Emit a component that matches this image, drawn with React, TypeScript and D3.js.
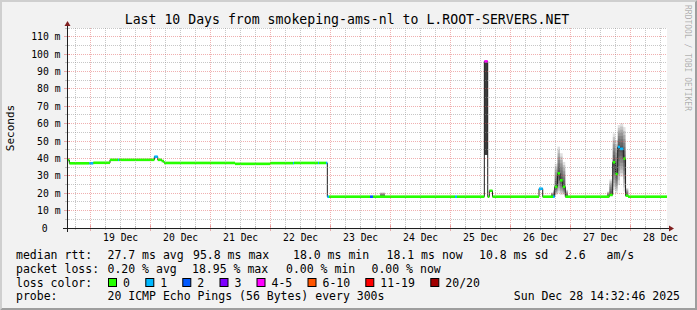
import React from "react";
import * as d3 from "d3";

const WIDTH = 697;
const HEIGHT = 310;

const TITLE = "Last 10 Days from smokeping-ams-nl to L.ROOT-SERVERS.NET";
const Y_LABEL = "Seconds";
const WATERMARK = "RRDTOOL / TOBI OETIKER";
const START = "2025-12-18 14:32:46";
const END = "2025-12-28 14:32:46";
const Y_MAX = 115;

const yMajorTicks = [0, 10, 20, 30, 40, 50, 60, 70, 80, 90, 100, 110];
const yTickLabels = ["0", "10 m", "20 m", "30 m", "40 m", "50 m", "60 m", "70 m", "80 m", "90 m", "100 m", "110 m"];

// median rtt (ms) step series: change points
const medianTimes = [
  "12-18 14:33", "12-18 15:29", "12-18 23:29", "12-19 01:05", "12-19 07:45", "12-19 10:57",
  "12-19 11:21", "12-20 01:29", "12-20 02:50", "12-20 04:26", "12-20 05:21", "12-21 09:45",
  "12-21 23:45", "12-22 08:57", "12-22 09:21", "12-22 18:57", "12-22 19:21", "12-22 22:09",
  "12-22 22:41", "12-22 23:21", "12-23 15:45", "12-23 16:57", "12-25 01:45", "12-25 02:33",
  "12-25 13:29", "12-25 14:50", "12-25 15:29", "12-25 16:45", "12-26 11:21", "12-26 12:50",
  "12-26 16:57", "12-26 17:38", "12-26 18:45", "12-26 19:45", "12-26 20:50", "12-26 21:52",
  "12-27 15:29", "12-27 16:50", "12-27 17:53", "12-27 18:50", "12-27 19:45", "12-27 21:04",
  "12-27 21:58", "12-27 22:58",
];
const medianValues = [
  39.1, 37.2, 37.2, 37.5, 39.2, 39.2,
  39.2, 41.0, 39.2, 38.5, 37.4, 36.9,
  37.3, 37.3, 37.4, 37.4, 37.4, 37.4,
  18.0, 18.0, 18.0, 18.0, 18.0, 18.0,
  95.8, 18.0, 21.4, 18.0, 22.6, 18.0,
  18.0, 23.7, 31.4, 27.4, 23.7, 18.0,
  19.0, 37.8, 31.0, 46.6, 45.5, 39.9,
  18.6, 18.0,
];
// index into lossColors
const medianLoss = [
  0, 0, 1, 0, 0, 1,
  0, 1, 0, 0, 0, 0,
  0, 1, 0, 1, 0, 1,
  1, 0, 2, 0, 1, 0,
  4, 0, 0, 0, 1, 0,
  1, 0, 0, 0, 0, 0,
  0, 0, 0, 1, 1, 0,
  0, 0,
];

// smoke (ping spread) columns
const smokeStart = [
  "12-23 19:45", "12-26 16:09", "12-26 16:57", "12-26 17:38", "12-26 18:45", "12-26 19:45",
  "12-26 20:50", "12-26 21:52", "12-27 14:33", "12-27 15:29", "12-27 16:50", "12-27 17:53",
  "12-27 18:50", "12-27 19:45", "12-27 21:04", "12-27 21:58",
];
const smokeEnd = [
  "12-23 21:45", "12-26 16:57", "12-26 17:38", "12-26 18:45", "12-26 19:45", "12-26 20:50",
  "12-26 21:52", "12-26 22:57", "12-27 15:29", "12-27 16:50", "12-27 17:53", "12-27 18:50",
  "12-27 19:45", "12-27 21:04", "12-27 21:58", "12-27 23:04",
];
const smokeLow = [18.4, 18.3, 18.3, 19.0, 20.0, 19.0, 19.0, 18.3, 18.3, 19.0, 21.8, 20.0, 24.7, 29.5, 21.0, 18.3];
const smokeHigh = [20.5, 20.5, 22.0, 37.0, 46.8, 43.0, 38.0, 22.0, 21.0, 28.0, 54.4, 50.6, 59.2, 60.2, 58.0, 23.0];

// dense smoke of the 25 Dec spike
const spikeStart = ["12-25 13:29"];
const spikeEnd = ["12-25 14:50"];
const spikeLow = [42.0];
const spikeHigh = [95.6];

const lossLabels = ["0", "1", "2", "3", "4-5", "6-10", "11-19", "20/20"];
const lossColors = ["#26ff00", "#00b8ff", "#0059ff", "#7e00ff", "#ff00ff", "#ff5500", "#ff0000", "#a10000"];

const rttLegend = ["median rtt:", "27.7 ms avg", "95.8 ms max", "18.0 ms min", "18.1 ms now", "10.8 ms sd", "2.6", "am/s"];
const lossLegend = ["packet loss:", "0.20 % avg", "18.95 % max", "0.00 % min", "0.00 % now"];
const probeLegend = ["probe:", "20 ICMP Echo Pings (56 Bytes) every 300s", "Sun Dec 28 14:32:46 2025"];
const lossColorLabel = "loss color:";

const FONT = "'DejaVu Sans Mono', monospace";

export default function App() {
  const parseFull = d3.timeParse("%Y-%m-%d %H:%M:%S");
  const parseShortFn = d3.timeParse("%Y-%m-%d %H:%M");
  const ps = (s: string) => parseShortFn("2025-" + s) as Date;
  const t0 = parseFull(START) as Date;
  const t1 = parseFull(END) as Date;

  const L = 67, R = 667, T = 28, B = 228;
  const x = d3.scaleTime().domain([t0, t1]).range([L, R]);
  const y = d3.scaleLinear().domain([0, Y_MAX]).range([B, T]);

  const times = medianTimes.map(ps);
  const pts: [number, number][] = times.map((t, i) => [x(t), y(medianValues[i])]);
  pts.push([x(t1), y(medianValues[medianValues.length - 1])]);
  const linePath = d3.line().curve(d3.curveStepAfter)(pts) || "";

  const bis = d3.bisector((d: Date) => d.getTime()).right;
  const medianAt = (t: Date) => {
    const i = Math.max(0, bis(times, t.getTime()) - 1);
    return medianValues[i];
  };

  const crisp = (v: number) => Math.floor(v) + 0.5;

  // grid
  const minorH = d3.range(5, Y_MAX + 0.01, 5).filter((v) => v % 10 !== 0);
  const majorH = yMajorTicks.filter((v) => v > 0);
  const sixHours = d3.timeHour.every(6)!.range(t0, t1).filter((d) => d.getHours() !== 0);
  const days = d3.timeDay.range(t0, t1);
  const noons = days.map((d) => d3.timeHour.offset(d, 12)).filter((d) => d < t1);
  const fmtDay = d3.timeFormat("%d %b");

  const minorGrid = "rgba(143,143,143,0.5)";
  const majorGrid = "rgba(222,79,79,0.45)";

  const smokeLayers = 8;

  const rttX = [16, 107.5, 193, 293, 386.5, 479, 565, 606.5];
  const lossX = [16, 107.5, 192, 286, 371.5];
  const boxX = [108, 145.3, 182.3, 219.5, 256.5, 307.5, 365.3, 430.3];
  const probeX = [16, 107.5];

  return (
    <svg
      width={WIDTH}
      height={HEIGHT}
      style={{ position: "absolute", left: 0, top: 0, display: "block" }}
      fontFamily={FONT}
    >
      <rect x={0} y={0} width={WIDTH} height={HEIGHT} fill="#f2f2f2" />
      <polygon points={`0,${HEIGHT} 2,${HEIGHT - 2} 2,2 ${WIDTH - 2},2 ${WIDTH},0 0,0`} fill="#cfcfcf" />
      <polygon points={`2,${HEIGHT - 2} ${WIDTH - 2},${HEIGHT - 2} ${WIDTH - 2},2 ${WIDTH},0 ${WIDTH},${HEIGHT} 0,${HEIGHT}`} fill="#9e9e9e" />

      <rect x={L} y={T} width={R - L} height={B - T} fill="#ffffff" />

      {/* smoke */}
      <g>
        {smokeStart.map((s, i) => {
          const ta = ps(s), tb = ps(smokeEnd[i]);
          const lo = smokeLow[i], hi = smokeHigh[i];
          const med = Math.min(hi, Math.max(lo, medianAt(ta)));
          const xa = x(ta), xb = x(tb);
          return d3.range(smokeLayers).map((k) => {
            const f = k / smokeLayers;
            const a = lo + (med - lo) * f;
            const b = hi - (hi - med) * f;
            return (
              <rect
                key={`s${i}-${k}`}
                x={xa}
                width={Math.max(0.5, xb - xa)}
                y={y(b)}
                height={Math.max(0.3, y(a) - y(b))}
                fill="#000"
                fillOpacity={0.12}
              />
            );
          });
        })}
        {spikeStart.map((s, i) => {
          const xa = x(ps(s)), xb = x(ps(spikeEnd[i]));
          return (
            <rect key={`sp${i}`} x={xa} width={xb - xa} y={y(spikeHigh[i])} height={y(spikeLow[i]) - y(spikeHigh[i])} fill="#3b3b3b" />
          );
        })}
      </g>

      {/* median line */}
      <path d={linePath} fill="none" stroke="#202020" strokeWidth={1} />
      <g>
        {times.map((t, i) => {
          const xa = x(t);
          const xb = i + 1 < times.length ? x(times[i + 1]) : x(t1);
          return (
            <rect
              key={`m${i}`}
              x={xa}
              width={xb - xa}
              y={y(medianValues[i]) - 1.3}
              height={2.6}
              fill={lossColors[medianLoss[i]]}
            />
          );
        })}
      </g>

      {/* grid */}
      <g strokeDasharray="1,1" strokeWidth={1} shapeRendering="crispEdges">
        {minorH.map((v) => (
          <line key={`mh${v}`} x1={L} x2={R} y1={crisp(y(v))} y2={crisp(y(v))} stroke={minorGrid} />
        ))}
        {sixHours.map((d) => (
          <line key={`mv${d.getTime()}`} x1={crisp(x(d))} x2={crisp(x(d))} y1={T} y2={B} stroke={minorGrid} />
        ))}
        {majorH.map((v) => (
          <line key={`Mh${v}`} x1={L} x2={R} y1={crisp(y(v))} y2={crisp(y(v))} stroke={majorGrid} />
        ))}
        {days.map((d) => (
          <line key={`Mv${d.getTime()}`} x1={crisp(x(d))} x2={crisp(x(d))} y1={T} y2={B} stroke={majorGrid} />
        ))}
      </g>

      {/* ticks */}
      <g strokeWidth={1} shapeRendering="crispEdges">
        {minorH.map((v) => (
          <line key={`tmh${v}`} x1={L - 2} x2={L + 2} y1={crisp(y(v))} y2={crisp(y(v))} stroke={minorGrid} />
        ))}
        {majorH.map((v) => (
          <line key={`tMh${v}`} x1={L - 3} x2={L + 3} y1={crisp(y(v))} y2={crisp(y(v))} stroke={majorGrid} />
        ))}
        {sixHours.map((d) => (
          <line key={`tmv${d.getTime()}`} x1={crisp(x(d))} x2={crisp(x(d))} y1={B - 2} y2={B + 2} stroke={minorGrid} />
        ))}
        {days.map((d) => (
          <line key={`tMv${d.getTime()}`} x1={crisp(x(d))} x2={crisp(x(d))} y1={B - 3} y2={B + 3} stroke={majorGrid} />
        ))}
      </g>

      {/* axes */}
      <g shapeRendering="crispEdges">
        <line x1={L - 4} x2={R + 4} y1={B + 0.5} y2={B + 0.5} stroke="#1f1f1f" />
        <line x1={L + 0.5} x2={L + 0.5} y1={B + 4} y2={T - 4} stroke="#1f1f1f" />
      </g>
      <polygon points={`${R + 2},${B - 2.5} ${R + 2},${B + 3.5} ${R + 7},${B + 0.5}`} fill="#801f1f" />
      <polygon points={`${L - 2.5},${T - 2} ${L + 3.5},${T - 2} ${L + 0.5},${T - 7}`} fill="#801f1f" />

      {/* y labels */}
      <g fontSize={9.75} fill="#000">
        {yMajorTicks.map((v, i) => (
          <text key={`yl${v}`} x={v === 0 ? 47.5 : 60.5} y={y(v) + 3.5} textAnchor="end">
            {yTickLabels[i]}
          </text>
        ))}
      </g>
      {/* x labels */}
      <g fontSize={9.75} fill="#000">
        {noons.map((d) => (
          <text key={`xl${d.getTime()}`} x={x(d)} y={241} textAnchor="middle">
            {fmtDay(d)}
          </text>
        ))}
      </g>

      <text x={347} y={24} textAnchor="middle" fontSize={13.2} fill="#000">
        {TITLE}
      </text>
      <text transform="translate(14,128) rotate(-90)" textAnchor="middle" fontSize={11} fill="#000">
        {Y_LABEL}
      </text>
      <text transform="translate(685,5) rotate(90)" fontSize={8} fill="rgba(0,0,0,0.3)">
        {WATERMARK}
      </text>

      {/* legend */}
      <g fontSize={11.5} fill="#000" style={{ whiteSpace: "pre" }}>
        {rttLegend.map((s, i) => (
          <text key={`r${i}`} x={rttX[i]} y={258.5}>{s}</text>
        ))}
        {lossLegend.map((s, i) => (
          <text key={`l${i}`} x={lossX[i]} y={272.5}>{s}</text>
        ))}
        <text x={16} y={286.5}>{lossColorLabel}</text>
        {lossLabels.map((s, i) => (
          <g key={`lc${i}`}>
            <rect x={boxX[i] + 0.5} y={278.5} width={8} height={8} fill={lossColors[i]} stroke="#000" strokeWidth={1} />
            <text x={boxX[i] + 15} y={286.5}>{s}</text>
          </g>
        ))}
        {probeLegend.slice(0, 2).map((s, i) => (
          <text key={`p${i}`} x={probeX[i]} y={300}>{s}</text>
        ))}
        <text x={680} y={300} textAnchor="end">{probeLegend[2]}</text>
      </g>
    </svg>
  );
}
